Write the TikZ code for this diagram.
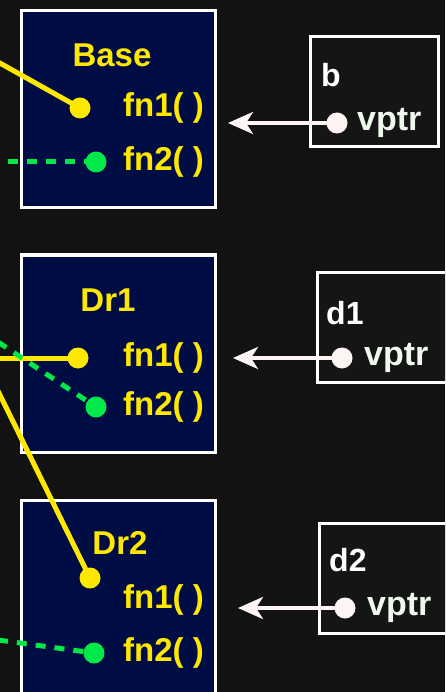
\documentclass[tikz,border=0pt]{standalone}
\usepackage{fontspec}
\setmainfont{Liberation Sans}
\usetikzlibrary{arrows.meta}
\definecolor{bg}{HTML}{121212}
\definecolor{navy}{HTML}{000D45}
\definecolor{yel}{HTML}{FFE800}
\definecolor{grn}{HTML}{00E84A}
\definecolor{vbox}{HTML}{151515}
\definecolor{wht}{HTML}{FFF4F4}
\definecolor{vtxt}{HTML}{EEF8EC}
\begin{document}
\begin{tikzpicture}[x=1pt,y=-1pt,
  classbox/.style={draw=white,line width=3pt,fill=navy,minimum width=194pt,minimum height=197pt,inner sep=0pt},
  objbox/.style={draw=white,line width=3pt,fill=vbox,minimum height=110pt,inner sep=0pt},
  lbl/.style={font=\fontsize{33}{37}\selectfont\bfseries,text=yel,inner sep=0pt},
  fn/.style={lbl,anchor=west},
  olbl/.style={font=\fontsize{32}{36}\selectfont\bfseries,text=white,inner sep=0pt,anchor=west},
  vlbl/.style={font=\fontsize{34}{38}\selectfont\bfseries,text=vtxt,inner sep=0pt,anchor=west},
  ydot/.style={circle,fill=yel,minimum size=21pt,inner sep=0pt},
  gdot/.style={circle,fill=grn,minimum size=21pt,inner sep=0pt},
  wdot/.style={circle,fill=wht,minimum size=21pt,inner sep=0pt},
  yline/.style={draw=yel,line width=5pt},
  gline/.style={draw=grn,line width=5pt,dash pattern=on 10pt off 9pt},
  ptr/.style={draw=wht,line width=4pt,-{Stealth[length=25pt,width=22pt,inset=7pt]}}
]
\useasboundingbox (0,0) rectangle (445,692);
\clip (0,0) rectangle (445,692);
\fill[bg] (0,0) rectangle (445,692);

% class boxes
\node[classbox] (base) at (118,109.5) {};
\node[classbox] (dr1) at (118,353.5) {};
\node[classbox] (dr2) at (118,598.5) {};

% object boxes
\node[objbox,minimum width=128pt] (ob) at (374,92) {};
\node[objbox,minimum width=133pt] (od1) at (383.5,327) {};
\node[objbox,minimum width=133pt] (od2) at (385.5,578) {};

% labels
\node[lbl] (baselbl) at (112,55) {Base};
\node[lbl] (dr1lbl) at (108,300) {Dr1};
\node[lbl] (dr2lbl) at (120,543) {Dr2};

\node[fn] (bf1) at (123,108) {fn1( )};
\node[fn] (bf2) at (123,162) {fn2( )};
\node[fn] (d1f1) at (123,358) {fn1( )};
\node[fn] (d1f2) at (123,407) {fn2( )};
\node[fn] (d2f1) at (123,600) {fn1( )};
\node[fn] (d2f2) at (123,653) {fn2( )};

\node[olbl] (blbl) at (321,75) {b};
\node[olbl] (d1lbl) at (326,313) {d1};
\node[olbl] (d2lbl) at (329,560) {d2};
\node[vlbl] (bv) at (357,123) {vptr};
\node[vlbl] (d1v) at (364,358) {vptr};
\node[vlbl] (d2v) at (367,608) {vptr};

% dot positions
\coordinate (bd1) at (80,108);
\coordinate (bd2) at (96,162);
\coordinate (d1d1) at (78,358);
\coordinate (d1d2) at (96,407);
\coordinate (d2d1) at (90,578);
\coordinate (d2d2) at (94,653);

% free ends of connectors
\coordinate (ya) at (-2,62);
\coordinate (yb) at (-2,358);
\coordinate (yc) at (-2,391);
\coordinate (ga) at (8,162);
\coordinate (gb) at (-2,342);
\coordinate (gc) at (-2,640);

\draw[yline] (ya) -- (bd1);
\draw[yline] (yb) -- (d1d1);
\draw[yline] (yc) -- (d2d1);
\draw[gline] (ga) -- (bd2);
\draw[gline] (gb) -- (d1d2);
\draw[gline] (gc) -- (d2d2);

\node[ydot] (bdot1) at (bd1) {};
\node[gdot] (bdot2) at (bd2) {};
\node[ydot] (d1dot1) at (d1d1) {};
\node[gdot] (d1dot2) at (d1d2) {};
\node[ydot] (d2dot1) at (d2d1) {};
\node[gdot] (d2dot2) at (d2d2) {};

% vptr arrows
\node[wdot] (bp) at (337,123) {};
\node[wdot] (d1p) at (342,358) {};
\node[wdot] (d2p) at (345,608) {};
\coordinate (bt) at (228,123);
\coordinate (d1t) at (233,358);
\coordinate (d2t) at (238,608);
\draw[ptr] (bp.center) -- (bt);
\draw[ptr] (d1p.center) -- (d1t);
\draw[ptr] (d2p.center) -- (d2t);
\end{tikzpicture}
\end{document}
